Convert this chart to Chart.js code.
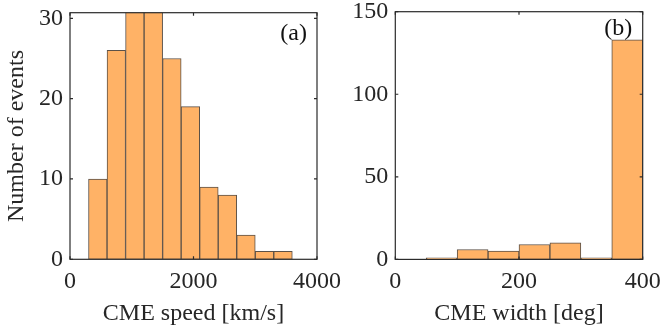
<!DOCTYPE html>
<html>
<head>
<meta charset="utf-8">
<script src="https://cdn.jsdelivr.net/npm/chart.js@4.4.0/dist/chart.umd.min.js"></script>
<style>
  html, body { margin: 0; padding: 0; background: #fff; }
  #wrap { position: relative; width: 662px; height: 332px; }
  .panel { position: absolute; top: 0; height: 332px; }
  #left { left: 0; width: 345px; z-index: 2; }
  #right { left: 331px; width: 331px; z-index: 1; }
</style>
</head>
<body>
<div id="wrap">
  <div class="panel" id="left"><canvas id="speedChart" width="345" height="332"></canvas></div>
  <div class="panel" id="right"><canvas id="widthChart" width="331" height="332"></canvas></div>
</div>
<script>
// Histogram bin edges and counts
const speedEdges = [300, 600, 900, 1200, 1500, 1800, 2100, 2400, 2700, 3000, 3300, 3600];
const speedCounts = [10, 26, 31, 31, 25, 19, 9, 8, 3, 1, 1];
const widthEdges = [50, 100, 150, 200, 250, 300, 350, 400];
const widthCounts = [1, 6, 5, 9, 10, 1, 133];

const speedTicksX = [0, 2000, 4000];
const widthTicksX = [0, 200, 400];

const FONT = '"Liberation Serif", "Times New Roman", serif';
const FSIZE = 24;
const TEXT = '#262626';
const BAR_FILL = '#FFB266';
const BAR_EDGE = '#5b5148';

function toBins(edges, counts) {
    return counts.map((c, i) => ({ x: (edges[i] + edges[i + 1]) / 2, y: c }));
}

// Box around the axes plus inward ticks on all four sides, and the panel tag
const boxPlugin = {
    id: 'box',
    afterDraw(chart, args, opts) {
        const ctx = chart.ctx;
        const a = chart.chartArea;
        const xs = chart.scales.x, ys = chart.scales.y;
        ctx.save();
        ctx.strokeStyle = '#2b2b2b';
        ctx.lineWidth = 1.2;
        ctx.strokeRect(a.left, a.top, a.right - a.left, a.bottom - a.top);
        const len = 3;
        ctx.beginPath();
        xs.ticks.forEach(t => {
            const px = xs.getPixelForValue(t.value);
            ctx.moveTo(px, a.bottom); ctx.lineTo(px, a.bottom - len);
            ctx.moveTo(px, a.top); ctx.lineTo(px, a.top + len);
        });
        ys.ticks.forEach(t => {
            const py = ys.getPixelForValue(t.value);
            ctx.moveTo(a.left, py); ctx.lineTo(a.left + len, py);
            ctx.moveTo(a.right, py); ctx.lineTo(a.right - len, py);
        });
        ctx.stroke();
        ctx.fillStyle = '#111';
        ctx.font = FSIZE + 'px ' + FONT;
        ctx.textAlign = 'right';
        ctx.textBaseline = 'middle';
        ctx.fillText(opts.tag, a.right - opts.dx, a.top + opts.dy);
        ctx.restore();
    }
};

function makeHist(canvasId, edges, counts, xTicks, yMax, yStep, xTitle, yTitle, layout) {
    return new Chart(document.getElementById(canvasId).getContext('2d'), {
        type: 'bar',
        data: {
            datasets: [{
                data: toBins(edges, counts),
                backgroundColor: BAR_FILL,
                borderColor: BAR_EDGE,
                borderWidth: 1,
                borderSkipped: false,
                barPercentage: 1,
                categoryPercentage: 1
            }]
        },
        options: {
            responsive: false,
            animation: false,
            events: [],
            layout: { padding: { top: layout.top, right: layout.right, left: layout.left, bottom: 0 } },
            plugins: {
                legend: { display: false },
                tooltip: { enabled: false },
                box: { tag: layout.tag, dx: layout.tagDx, dy: layout.tagDy }
            },
            scales: {
                x: {
                    type: 'linear',
                    offset: false,
                    min: xTicks[0],
                    max: xTicks[xTicks.length - 1],
                    afterBuildTicks: s => { s.ticks = xTicks.map(v => ({ value: v })); },
                    afterFit: s => { s.height = layout.xAxisH; s.paddingLeft = 0; s.paddingRight = 0; },
                    grid: { display: false, drawTicks: false },
                    border: { display: false },
                    ticks: { color: TEXT, font: { family: FONT, size: FSIZE }, padding: 8, maxRotation: 0, autoSkip: false,
                             callback: v => String(v) },
                    title: { display: true, text: xTitle, color: TEXT, font: { family: FONT, size: FSIZE }, padding: { top: 0, bottom: 4 } }
                },
                y: {
                    min: 0,
                    max: yMax,
                    afterFit: s => { s.width = layout.yAxisW; s.paddingTop = 0; s.paddingBottom = 0; },
                    grid: { display: false, drawTicks: false },
                    border: { display: false },
                    ticks: { stepSize: yStep, includeBounds: false, color: TEXT, font: { family: FONT, size: FSIZE }, padding: 7,
                             callback: v => String(v) },
                    title: { display: yTitle !== '', text: yTitle, color: TEXT, font: { family: FONT, size: FSIZE }, padding: 0 }
                }
            }
        },
        plugins: [boxPlugin]
    });
}

makeHist('speedChart', speedEdges, speedCounts, speedTicksX, 30.7, 10,
    'CME speed [km/s]', 'Number of events',
    { top: 12.7, right: 28, left: 2, xAxisH: 72.7, yAxisW: 68, tag: '(a)', tagDx: 10, tagDy: 21 });

makeHist('widthChart', widthEdges, widthCounts, widthTicksX, 150, 50,
    'CME width [deg]', '',
    { top: 11.7, right: 19.3, left: 0, xAxisH: 72.6, yAxisW: 64.3, tag: '(b)', tagDx: 10.5, tagDy: 17.5 });
</script>
</body>
</html>
